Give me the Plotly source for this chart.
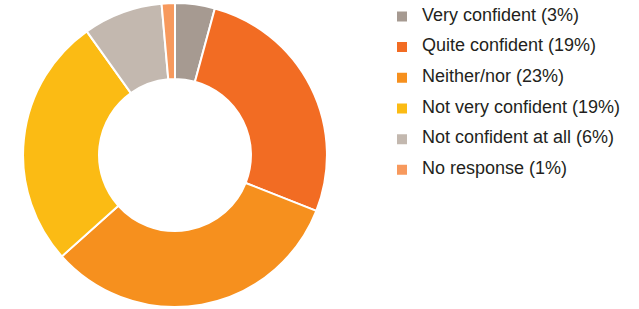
import plotly.graph_objects as go

categories = ["Very confident", "Quite confident", "Neither/nor",
              "Not very confident", "Not confident at all", "No response"]
values = [3, 19, 23, 19, 6, 1]
colors = ["#a69a91", "#f26c23", "#f6901e", "#fbbb14", "#c3b8af", "#f7995d"]

labels = ['<span style="font-size:18px">%s (%d%%)</span><br> ' % (c, v)
          for c, v in zip(categories, values)]

fig = go.Figure(go.Pie(
    labels=labels,
    values=values,
    marker=dict(colors=colors, line=dict(color="white", width=2)),
    hole=0.5,
    sort=False,
    direction="clockwise",
    rotation=0,
    textinfo="none",
    hoverinfo="label+value",
    domain=dict(x=[23/639, 327/639], y=[0.0065, 0.99]),
))

fig.update_layout(
    width=639, height=309,
    margin=dict(l=0, r=0, t=0, b=0),
    paper_bgcolor="white",
    plot_bgcolor="white",
    showlegend=True,
    legend=dict(
        x=379/639, xanchor="left",
        y=1.0, yanchor="top",
        valign="top",
        borderwidth=3,
        bordercolor="rgba(0,0,0,0)",
        font=dict(family="Liberation Sans, Arial, sans-serif", size=10.65, color="#231f20"),
        bgcolor="rgba(0,0,0,0)",
        traceorder="normal",
    ),
)

fig.write_html("out.html", config={"displayModeBar": False},
               post_script="document.body.style.margin='0';")
